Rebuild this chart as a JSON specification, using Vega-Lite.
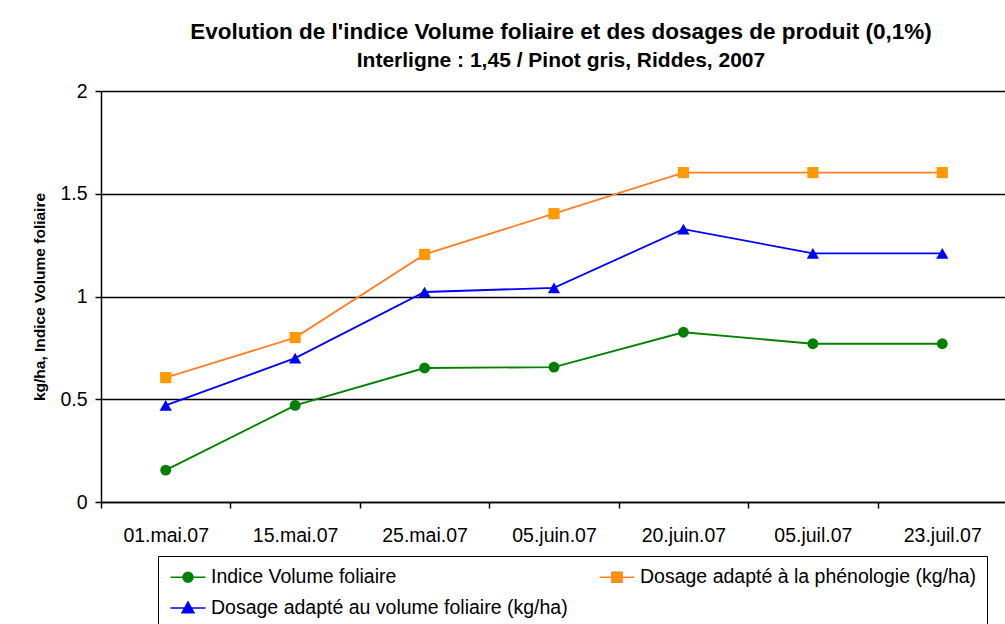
{
  "$schema": "https://vega.github.io/schema/vega-lite/v6.json",
  "width": 906,
  "height": 411,
  "autosize": "none",
  "padding": {"left": 101, "top": 91, "right": 0, "bottom": 122},
  "background": "white",
  "title": {
    "text": "Evolution de l'indice Volume foliaire et des dosages de produit (0,1%)",
    "subtitle": "Interligne : 1,45 / Pinot gris, Riddes, 2007",
    "font": "Liberation Sans",
    "fontSize": 22.5,
    "fontWeight": "bold",
    "color": "black",
    "subtitleFont": "Liberation Sans",
    "subtitleFontSize": 21,
    "subtitleFontWeight": "bold",
    "subtitleColor": "black",
    "subtitlePadding": 7,
    "anchor": "middle",
    "frame": "group",
    "dx": 7,
    "offset": 10
  },
  "data": {
    "values": [
      {"date": "01.mai.07", "serie": "Indice Volume foliaire", "v": 0.155},
      {"date": "15.mai.07", "serie": "Indice Volume foliaire", "v": 0.47},
      {"date": "25.mai.07", "serie": "Indice Volume foliaire", "v": 0.652},
      {"date": "05.juin.07", "serie": "Indice Volume foliaire", "v": 0.656},
      {"date": "20.juin.07", "serie": "Indice Volume foliaire", "v": 0.826},
      {"date": "05.juil.07", "serie": "Indice Volume foliaire", "v": 0.77},
      {"date": "23.juil.07", "serie": "Indice Volume foliaire", "v": 0.77},
      {"date": "01.mai.07", "serie": "Dosage adapté à la phénologie (kg/ha)", "v": 0.605},
      {"date": "15.mai.07", "serie": "Dosage adapté à la phénologie (kg/ha)", "v": 0.8},
      {"date": "25.mai.07", "serie": "Dosage adapté à la phénologie (kg/ha)", "v": 1.205},
      {"date": "05.juin.07", "serie": "Dosage adapté à la phénologie (kg/ha)", "v": 1.403},
      {"date": "20.juin.07", "serie": "Dosage adapté à la phénologie (kg/ha)", "v": 1.603},
      {"date": "05.juil.07", "serie": "Dosage adapté à la phénologie (kg/ha)", "v": 1.603},
      {"date": "23.juil.07", "serie": "Dosage adapté à la phénologie (kg/ha)", "v": 1.603},
      {"date": "01.mai.07", "serie": "Dosage adapté au volume foliaire (kg/ha)", "v": 0.47},
      {"date": "15.mai.07", "serie": "Dosage adapté au volume foliaire (kg/ha)", "v": 0.7},
      {"date": "25.mai.07", "serie": "Dosage adapté au volume foliaire (kg/ha)", "v": 1.022},
      {"date": "05.juin.07", "serie": "Dosage adapté au volume foliaire (kg/ha)", "v": 1.042},
      {"date": "20.juin.07", "serie": "Dosage adapté au volume foliaire (kg/ha)", "v": 1.328},
      {"date": "05.juil.07", "serie": "Dosage adapté au volume foliaire (kg/ha)", "v": 1.21},
      {"date": "23.juil.07", "serie": "Dosage adapté au volume foliaire (kg/ha)", "v": 1.21}
    ]
  },
  "encoding": {
    "x": {
      "field": "date",
      "type": "ordinal",
      "sort": ["01.mai.07", "15.mai.07", "25.mai.07", "05.juin.07", "20.juin.07", "05.juil.07", "23.juil.07"],
      "bandPosition": 0.5,
      "scale": {"type": "band", "paddingInner": 0, "paddingOuter": 0},
      "axis": {
        "title": null,
        "labelAngle": 0,
        "tickBand": "extent",
        "grid": false,
        "domainColor": "black",
        "domainWidth": 1.5,
        "tickColor": "black",
        "tickWidth": 1.5,
        "tickSize": 6,
        "labelFont": "Liberation Sans",
        "labelFontSize": 19.5,
        "labelColor": "black",
        "labelPadding": 18
      }
    },
    "y": {
      "field": "v",
      "type": "quantitative",
      "scale": {"domain": [0, 2], "nice": false, "zero": true},
      "axis": {
        "title": "kg/ha, Indice Volume foliaire",
        "titleFont": "Liberation Sans",
        "titleFontSize": 15.5,
        "titleFontWeight": "bold",
        "titleColor": "black",
        "titlePadding": 12,
        "values": [0, 0.5, 1, 1.5, 2],
        "format": "~g",
        "grid": true,
        "gridColor": "black",
        "gridWidth": 1.5,
        "gridOpacity": 1,
        "domainColor": "black",
        "domainWidth": 1.5,
        "tickColor": "black",
        "tickWidth": 1.5,
        "tickSize": 6,
        "labelFont": "Liberation Sans",
        "labelFontSize": 19.5,
        "labelColor": "black",
        "labelPadding": 8
      }
    }
  },
  "layer": [
    {
      "mark": {"type": "line", "strokeWidth": 1.8},
      "encoding": {
        "stroke": {
          "field": "serie",
          "type": "nominal",
          "scale": {
            "domain": ["Indice Volume foliaire", "Dosage adapté à la phénologie (kg/ha)", "Dosage adapté au volume foliaire (kg/ha)"],
            "range": ["#008000", "#FF7F27", "#0000FF"]
          },
          "legend": {
            "title": null,
            "orient": "none",
            "legendX": 57,
            "legendY": 465,
            "direction": "horizontal",
            "columns": 2,
            "columnPadding": 28,
            "rowPadding": 10,
            "padding": 10,
            "strokeColor": "black",
            "fillColor": "white",
            "symbolSize": 400,
            "symbolStrokeWidth": 1.6,
            "symbolOffset": 9,
            "symbolType": {"expr": "datum.value === 'Indice Volume foliaire' ? 'M-1.75,0H1.75M0.5,0A0.5,0.5,0,1,1,-0.5,0A0.5,0.5,0,1,1,0.5,0Z' : (datum.value === 'Dosage adapté à la phénologie (kg/ha)' ? 'M-1.75,0H1.75M-0.5,-0.5H0.5V0.5H-0.5Z' : 'M-1.75,0H1.75M0,-0.58L0.58,0.46L-0.58,0.46Z')"},
            "symbolFillColor": {"expr": "datum.value === 'Indice Volume foliaire' ? '#008000' : (datum.value === 'Dosage adapté à la phénologie (kg/ha)' ? '#FF9900' : '#0000FF')"},
            "labelOffset": 12,
            "labelFont": "Liberation Sans",
            "labelFontSize": 19.5,
            "labelColor": "black",
            "labelLimit": 600
          }
        }
      }
    },
    {
      "transform": [{"filter": {"field": "serie", "equal": "Indice Volume foliaire"}}],
      "mark": {"type": "point", "filled": true, "opacity": 1, "shape": "circle", "size": 118, "fill": "#008000", "stroke": null}
    },
    {
      "transform": [{"filter": {"field": "serie", "equal": "Dosage adapté à la phénologie (kg/ha)"}}],
      "mark": {"type": "point", "filled": true, "opacity": 1, "shape": "square", "size": 125, "fill": "#FF9900", "stroke": null}
    },
    {
      "transform": [{"filter": {"field": "serie", "equal": "Dosage adapté au volume foliaire (kg/ha)"}}],
      "mark": {"type": "point", "filled": true, "opacity": 1, "shape": "triangle-up", "size": 150, "fill": "#0000FF", "stroke": null}
    }
  ],
  "config": {
    "view": {"stroke": null},
    "font": "Liberation Sans"
  }
}
